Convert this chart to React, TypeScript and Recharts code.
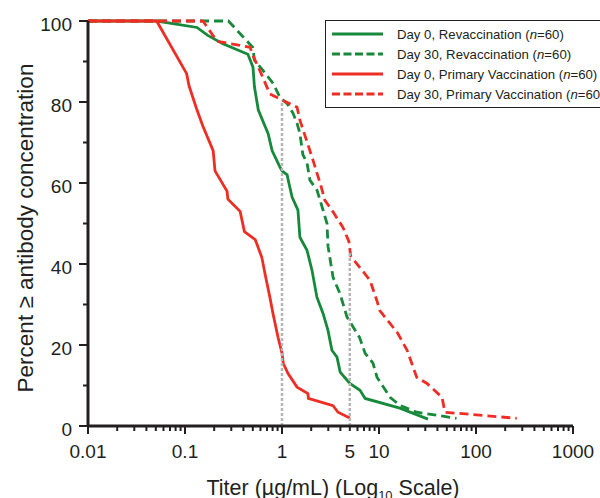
import { LineChart, Line, XAxis, YAxis, ReferenceLine } from 'recharts';

// titer (µg/mL) vs percent of subjects >= that concentration
const day0RevacTiter = [0.01, 0.051, 0.133, 0.17, 0.246, 0.445, 0.502, 0.52, 0.57, 0.72, 0.79, 0.95, 1.0, 1.13, 1.16, 1.27, 1.46, 1.53, 1.81, 2.04, 2.29, 2.65, 2.98, 3.27, 3.69, 3.98, 5.0, 6.37, 7.2, 16.4, 32];
const day0RevacPct = [100, 100, 98.4, 96.5, 94.4, 91.8, 88.6, 83.7, 78, 72.2, 68, 64, 63, 62, 60.7, 56.5, 53.3, 46.6, 43.4, 38.4, 31.8, 27.8, 23.6, 18.7, 17, 13.3, 10.5, 8.8, 6.8, 4.4, 1.7];

const day30RevacTiter = [0.01, 0.28, 0.5, 0.52, 0.637, 0.81, 0.95, 1.13, 1.3, 1.43, 1.53, 1.64, 1.81, 1.94, 2.3, 2.65, 2.91, 2.98, 3.36, 3.96, 4.68, 6.3, 7.18, 8.67, 9.55, 13, 16.4, 24.5, 63];
const day30RevacPct = [100, 100, 93.5, 90.3, 87.8, 84.6, 81.2, 79.6, 77.2, 74.7, 72.2, 67, 65, 60.7, 58.2, 53.3, 50, 44.4, 36.7, 32.7, 26.9, 21.9, 18, 15.5, 12, 7.1, 5.1, 3.4, 1.9];

const day0PrimaryTiter = [0.01, 0.051, 0.104, 0.11, 0.133, 0.153, 0.195, 0.204, 0.271, 0.277, 0.37, 0.41, 0.53, 0.62, 0.668, 0.75, 0.807, 0.91, 1.0, 1.03, 1.15, 1.43, 1.85, 1.87, 3.36, 3.78, 5.0];
const day0PrimaryPct = [100, 100, 87, 84, 78, 74, 68, 63, 58, 56, 53, 48, 46, 41.6, 37.6, 31.8, 27.8, 21.9, 18, 15.5, 13, 9.6, 8, 6.8, 5, 3.4, 2];

const day30PrimaryTiter = [0.01, 0.153, 0.214, 0.47, 0.49, 0.59, 0.75, 1.02, 1.43, 1.53, 1.94, 2.09, 2.3, 2.47, 2.77, 3.27, 4.26, 4.9, 5.1, 8.07, 9.5, 10.2, 15.5, 19.5, 24.5, 31.3, 44.6, 47.9, 263];
const day30PrimaryPct = [100, 100, 95, 93.5, 92, 87.8, 82, 80.4, 78.7, 75.5, 68, 65.6, 62.3, 60, 55.7, 53.3, 49, 45.5, 42, 36, 31, 28.5, 23, 18.7, 12, 10.5, 7.1, 3.4, 1.9];

// gray drop lines from the Day 30 primary curve
const dropTiters = [1, 5];
const dropPcts = [80.4, 43];

const xLabelTicks = [0.01, 0.1, 1, 5, 10, 100, 1000];
const xMajorTicks = [0.01, 0.1, 1, 10, 100, 1000];
const yLabelTicks = [0, 20, 40, 60, 80, 100];

const GREEN = '#17893b';
const RED = '#ee2e24';
const AXIS = '#231f20';
const FONT = '"Liberation Sans", Arial, sans-serif';
const MINOR = 5;

const zip = (xs: number[], ys: number[]) => xs.map((x, i) => ({ x, y: ys[i] }));

const series = [
  { name: 'Day 0, Revaccination', data: zip(day0RevacTiter, day0RevacPct), color: GREEN, dash: undefined },
  { name: 'Day 30, Revaccination', data: zip(day30RevacTiter, day30RevacPct), color: GREEN, dash: '9 5' },
  { name: 'Day 0, Primary Vaccination', data: zip(day0PrimaryTiter, day0PrimaryPct), color: RED, dash: undefined },
  { name: 'Day 30, Primary Vaccination', data: zip(day30PrimaryTiter, day30PrimaryPct), color: RED, dash: '9 5' },
];

const decades = [0.01, 0.1, 1, 10, 100];
const xTicks = [
  ...decades.flatMap(d => [1, 2, 3, 4, 5, 6, 7, 8, 9].map(k => +(k * d).toPrecision(3))),
  1000,
];

// props.y here is the end of the short (minor) tick line
const XTick = (props: any) => {
  const x = Number(props.x);
  const y = Number(props.y);
  const v = props.payload.value;
  const major = xMajorTicks.includes(v);
  const showLabel = xLabelTicks.includes(v);
  return (
    <g>
      {major && <line x1={x} x2={x} y1={y - 1} y2={y + 3} stroke={AXIS} strokeWidth={2} />}
      {showLabel && (
        <text x={x} y={y + 27} textAnchor="middle" fontSize={19} fill={AXIS} fontFamily={FONT}>
          {String(v)}
        </text>
      )}
    </g>
  );
};

const YTick = (props: any) => {
  const x = Number(props.x);
  const y = Number(props.y);
  const v = props.payload.value;
  const major = yLabelTicks.includes(v);
  return (
    <g>
      {major && <line x1={x - 4} x2={x + 1} y1={y} y2={y} stroke={AXIS} strokeWidth={2} />}
      {major && (
        <text x={x - 11} y={y + 10} textAnchor="end" fontSize={19} fill={AXIS} fontFamily={FONT}>
          {v}
        </text>
      )}
    </g>
  );
};

const XLabel = () => (
  <text x={333} y={495} textAnchor="middle" fontSize={21.5} fill={AXIS} fontFamily={FONT}>
    <tspan>Titer (µg/mL) (Log</tspan>
    <tspan fontSize={13} dy={5}>10</tspan>
    <tspan dy={-5}> Scale)</tspan>
  </text>
);

const YLabel = () => (
  <text
    x={33}
    y={228}
    transform="rotate(-90, 33, 228)"
    textAnchor="middle"
    fontSize={22.5}
    fill={AXIS}
    fontFamily={FONT}
  >
    Percent ≥ antibody concentration
  </text>
);

const ChartLegend = () => (
  <div
    style={{
      position: 'absolute',
      left: 325,
      top: 20,
      width: 300,
      height: 88,
      border: `1.5px solid ${AXIS}`,
      background: '#fff',
      fontFamily: FONT,
      fontSize: 13.2,
      color: AXIS,
      boxSizing: 'border-box',
    }}
  >
    {series.map((s, i) => (
      <div key={s.name} style={{ position: 'absolute', left: 0, top: 3 + i * 20, height: 20, display: 'flex', alignItems: 'center', whiteSpace: 'nowrap' }}>
        <svg width={70} height={20} style={{ display: 'block' }}>
          <line x1={6} x2={57} y1={10} y2={10} stroke={s.color} strokeWidth={3} strokeDasharray={s.dash ? '8 3.5' : undefined} />
        </svg>
        <span style={{ marginLeft: 1 }}>
          {s.name} (<i>n</i>=60)
        </span>
      </div>
    ))}
  </div>
);

if (typeof document !== 'undefined') document.body.style.margin = '0';

export default function App() {
  return (
    <div style={{ position: 'relative', width: 600, height: 498, overflow: 'hidden', background: '#fff' }}>
      <LineChart width={600} height={498} margin={{ top: 21, right: 27, bottom: 0, left: 0 }}>
        <XAxis
          dataKey="x"
          type="number"
          scale="log"
          domain={[0.01, 1000]}
          allowDataOverflow
          ticks={xTicks}
          interval={0}
          tick={<XTick />}
          tickLine={{ stroke: AXIS, strokeWidth: 2 }}
          tickSize={MINOR}
          tickMargin={0}
          axisLine={{ stroke: AXIS, strokeWidth: 3 }}
          height={72}
          label={<XLabel />}
        />
        <YAxis
          dataKey="y"
          type="number"
          domain={[0, 100]}
          ticks={[0, 10, 20, 30, 40, 50, 60, 70, 80, 90, 100]}
          interval={0}
          tick={<YTick />}
          tickLine={{ stroke: AXIS, strokeWidth: 2 }}
          tickSize={MINOR}
          tickMargin={0}
          axisLine={{ stroke: AXIS, strokeWidth: 3 }}
          width={88}
          label={<YLabel />}
        />
        {series.map(s => (
          <Line
            key={s.name}
            data={s.data}
            dataKey="y"
            type="linear"
            stroke={s.color}
            strokeWidth={2.8}
            strokeDasharray={s.dash}
            dot={false}
            activeDot={false}
            isAnimationActive={false}
          />
        ))}
        {dropTiters.map((t, i) => (
          <ReferenceLine
            key={t}
            segment={[{ x: t, y: 0 }, { x: t, y: dropPcts[i] }]}
            stroke="#b5b5b5"
            strokeWidth={2.5}
            strokeDasharray="3 2"
          />
        ))}
      </LineChart>
      <ChartLegend />
    </div>
  );
}
